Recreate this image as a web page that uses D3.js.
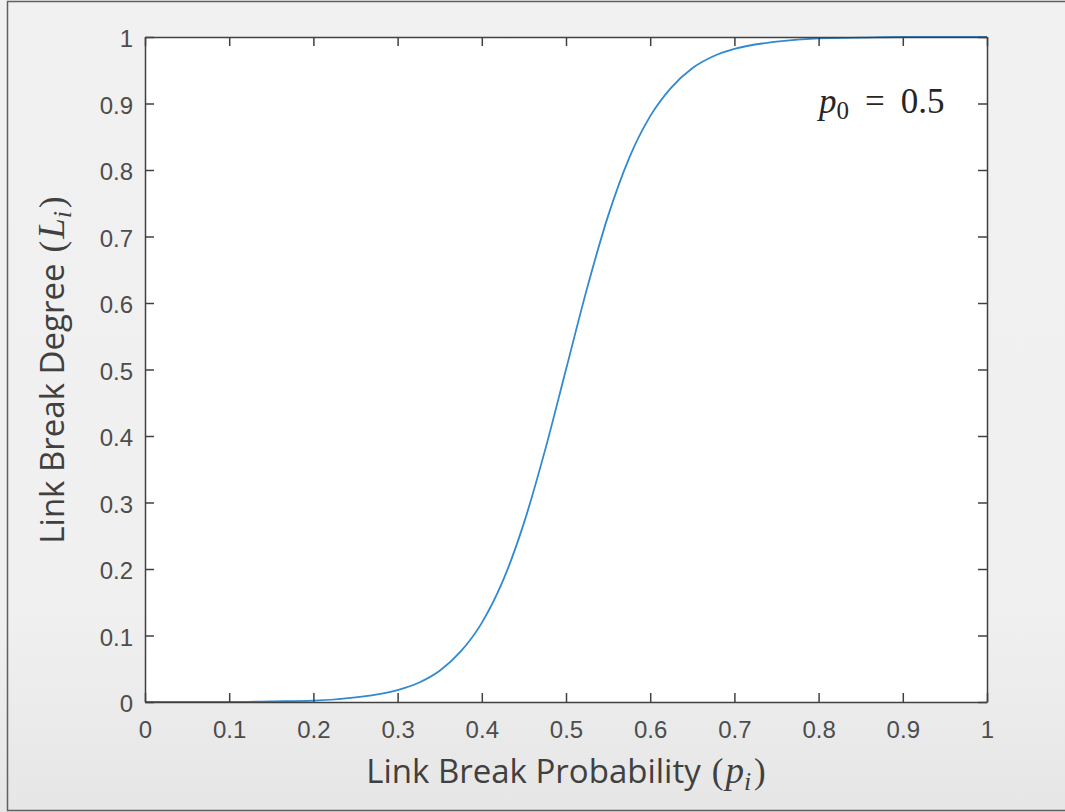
<!DOCTYPE html>
<html>
<head>
<meta charset="utf-8">
<script src="https://cdn.jsdelivr.net/npm/d3@7/dist/d3.min.js"></script>
<style>
  html, body { margin: 0; padding: 0; background: #f0f0f0; }
  svg { display: block; }
  .tick text { font-family: "Liberation Sans", Arial, sans-serif; font-size: 24px; fill: #4d4d4d; }
  .axis-label { font-family: "Open Sans", sans-serif; font-size: 33px; fill: #404040; }
  .math { font-family: "Liberation Serif", serif; }
</style>
</head>
<body>
<div id="chart"></div>
<script>
// Curve readings: link break probability p_i vs link break degree L_i
const probs = [0, 0.05, 0.1, 0.15, 0.2, 0.25, 0.3, 0.325, 0.35, 0.375, 0.4, 0.425, 0.45, 0.475,
               0.5, 0.525, 0.55, 0.575, 0.6, 0.625, 0.65, 0.675, 0.7, 0.75, 0.8, 0.85, 0.9, 0.95, 1];
const degrees = [0.000, 0.000, 0.000, 0.001, 0.002, 0.007, 0.018, 0.029, 0.047, 0.076, 0.119, 0.182, 0.269, 0.378,
                 0.500, 0.622, 0.731, 0.818, 0.881, 0.924, 0.953, 0.971, 0.982, 0.993, 0.998, 0.999, 1.000, 1.000, 1.000];

const xTicks = [0, 0.1, 0.2, 0.3, 0.4, 0.5, 0.6, 0.7, 0.8, 0.9, 1];
const yTicks = [0, 0.1, 0.2, 0.3, 0.4, 0.5, 0.6, 0.7, 0.8, 0.9, 1];

const width = 1065, height = 812;
const plot = { left: 145, right: 987, top: 37, bottom: 702 };

const svg = d3.select('#chart').append('svg')
  .attr('width', width)
  .attr('height', height);

// ── Figure background + frame ───────────────────────────────────────────
const grad = svg.append('defs').append('linearGradient')
  .attr('id', 'bg').attr('x1', 0).attr('y1', 0).attr('x2', 0).attr('y2', 1);
grad.append('stop').attr('offset', '0%').attr('stop-color', '#f1f1f1');
grad.append('stop').attr('offset', '75%').attr('stop-color', '#f0f0f0');
grad.append('stop').attr('offset', '100%').attr('stop-color', '#e6e6e6');

svg.append('rect')
  .attr('x', 0).attr('y', 0).attr('width', width).attr('height', height)
  .attr('fill', 'url(#bg)');

svg.append('path')
  .attr('d', `M${width},1.5 H7.5 V810.5 H${width}`)
  .attr('fill', 'none')
  .attr('stroke', '#606060')
  .attr('stroke-width', 1.5);

// ── Scales ──────────────────────────────────────────────────────────────
const x = d3.scaleLinear().domain([0, 1]).range([plot.left, plot.right]);
const y = d3.scaleLinear().domain([0, 1]).range([plot.bottom, plot.top]);

const fmt = d3.format('~g');

svg.append('rect')
  .attr('x', plot.left).attr('y', plot.top)
  .attr('width', plot.right - plot.left).attr('height', plot.bottom - plot.top)
  .attr('fill', '#ffffff');

// ── Curve ───────────────────────────────────────────────────────────────
const points = probs.map((p, i) => [p, degrees[i]]);

svg.append('path')
  .datum(points)
  .attr('fill', 'none')
  .attr('stroke', '#3189d0')
  .attr('stroke-width', 1.8)
  .attr('d', d3.line()
    .x(d => x(d[0]))
    .y(d => y(d[1]))
    .curve(d3.curveMonotoneX));

// ── Axes (ticks inward on all four sides) ───────────────────────────────
function styleAxis(g) {
  g.select('.domain').attr('stroke', '#404040').attr('stroke-width', 1.5);
  g.selectAll('.tick line').attr('stroke', '#404040').attr('stroke-width', 1.5);
}

svg.append('g')
  .attr('transform', `translate(0,${plot.bottom})`)
  .call(d3.axisBottom(x).tickValues(xTicks).tickFormat(fmt).tickSizeInner(-9).tickSizeOuter(0).tickPadding(19))
  .call(styleAxis)
  .call(g => g.selectAll('.tick text').attr('fill', '#4d4d4d'));

svg.append('g')
  .attr('transform', `translate(0,${plot.top})`)
  .call(d3.axisTop(x).tickValues(xTicks).tickFormat('').tickSizeInner(-9).tickSizeOuter(0))
  .call(styleAxis);

svg.append('g')
  .attr('transform', `translate(${plot.left},0)`)
  .call(d3.axisLeft(y).tickValues(yTicks).tickFormat(fmt).tickSizeInner(-9).tickSizeOuter(0).tickPadding(12))
  .call(styleAxis)
  .call(g => g.selectAll('.tick text').attr('fill', '#4d4d4d').attr('dy', '0.4em'));

svg.append('g')
  .attr('transform', `translate(${plot.right},0)`)
  .call(d3.axisRight(y).tickValues(yTicks).tickFormat('').tickSizeInner(-9).tickSizeOuter(0))
  .call(styleAxis);

// ── Axis labels ─────────────────────────────────────────────────────────
function mathLabel(sel, symbol) {
  sel.append('tspan').attr('class', 'math').attr('font-size', 35).attr('dx', 11).text('(');
  sel.append('tspan').attr('class', 'math').attr('font-style', 'italic').attr('font-size', 37).attr('dx', 2).text(symbol);
  sel.append('tspan').attr('class', 'math').attr('font-style', 'italic').attr('font-size', 26).attr('dy', 7).text('i');
  sel.append('tspan').attr('class', 'math').attr('font-size', 35).attr('dy', -7).attr('dx', 3).text(')');
}

const xLabel = svg.append('text')
  .attr('class', 'axis-label')
  .attr('x', 566)
  .attr('y', 783)
  .attr('text-anchor', 'middle');
xLabel.append('tspan').text('Link Break Probability');
mathLabel(xLabel, 'p');

const yLabel = svg.append('text')
  .attr('class', 'axis-label')
  .attr('transform', `translate(64,370) rotate(-90)`)
  .attr('text-anchor', 'middle');
yLabel.append('tspan').text('Link Break Degree');
mathLabel(yLabel, 'L');

// ── Annotation ──────────────────────────────────────────────────────────
const note = svg.append('text')
  .attr('class', 'math')
  .attr('x', 819)
  .attr('y', 113)
  .attr('font-size', 35)
  .attr('fill', '#262626');
note.append('tspan').attr('font-style', 'italic').text('p');
note.append('tspan').attr('font-size', 25).attr('dy', 6).text('0');
note.append('tspan').attr('dy', -6).attr('dx', 16).text('=');
note.append('tspan').attr('dx', 16).text('0.5');
</script>
</body>
</html>
